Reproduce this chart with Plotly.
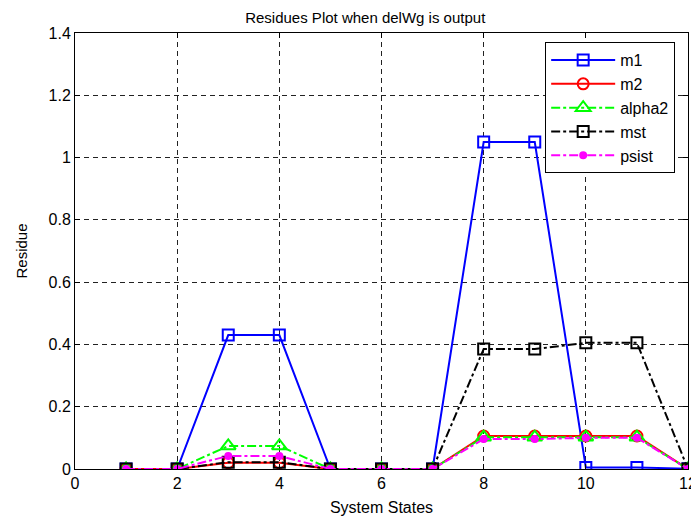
import plotly.graph_objects as go

states = [1, 2, 3, 4, 5, 6, 7, 8, 9, 10, 11, 12]
m1 = [0, 0, 0.43, 0.43, 0, 0, 0, 1.05, 1.05, 0.005, 0.005, 0.001]
m2 = [0, 0, 0.02, 0.02, 0, 0, 0, 0.106, 0.106, 0.106, 0.106, 0]
alpha2 = [0, 0, 0.074, 0.074, 0, 0, 0, 0.102, 0.102, 0.102, 0.102, 0]
mst = [0, 0, 0.022, 0.022, 0, 0, 0, 0.385, 0.385, 0.405, 0.405, 0]
psist = [0, 0, 0.042, 0.042, 0, 0, 0, 0.096, 0.096, 0.1, 0.1, 0]

x_ticks = [0, 2, 4, 6, 8, 10, 12]
y_ticks = [0, 0.2, 0.4, 0.6, 0.8, 1.0, 1.2, 1.4]
y_labels = ["0", "0.2", "0.4", "0.6", "0.8", "1", "1.2", "1.4"]

FONT = "Liberation Sans, Arial, sans-serif"

fig = go.Figure()
series = [
    ("m1", m1, "#0000ff", "solid", "square-open", 11),
    ("m2", m2, "#ff0000", "solid", "circle-open", 11),
    ("alpha2", alpha2, "#00ff00", "dashdot", "triangle-up-open", 13),
    ("mst", mst, "#000000", "dashdot", "square-open", 11),
    ("psist", psist, "#ff00ff", "dashdot", "circle", 6),
]
for name, vals, color, dash, sym, size in series:
    fig.add_trace(go.Scatter(
        x=states, y=vals, name=name, mode="lines+markers",
        line=dict(color=color, width=2, dash=dash),
        marker=dict(symbol=sym, size=size, color=color,
                    line=dict(color=color, width=2)),
    ))

axis_common = dict(
    showline=True, linecolor="black", linewidth=1, mirror="ticks",
    ticks="inside", ticklen=5, tickcolor="black",
    showgrid=True, gridcolor="#222222", griddash="5px,4px", gridwidth=1,
    zeroline=False, automargin=False,
    tickfont=dict(family=FONT, size=16, color="black"),
)
fig.update_xaxes(range=[0, 12], tickvals=x_ticks,
                 title=dict(text="System States", standoff=10,
                            font=dict(family=FONT, size=16, color="black")),
                 **axis_common)
fig.update_yaxes(range=[0, 1.4], tickvals=y_ticks, ticktext=y_labels,
                 title=dict(text="Residue", standoff=17,
                            font=dict(family=FONT, size=15, color="black")),
                 **axis_common)

fig.update_layout(
    width=691, height=511,
    margin=dict(l=67, r=11, t=25, b=50),
    plot_bgcolor="white", paper_bgcolor="white",
    title=dict(text="Residues Plot when delWg is output", x=0.517, xanchor="center",
               y=0.992, yanchor="top",
               font=dict(family=FONT, size=15, color="black")),
    legend=dict(x=0.767, y=0.979, xanchor="left", yanchor="top",
                bgcolor="white", bordercolor="black", borderwidth=1,
                font=dict(family=FONT, size=16, color="black"),
                itemwidth=64, tracegroupgap=0),
    showlegend=True,
)

fig.write_html("out.html")
